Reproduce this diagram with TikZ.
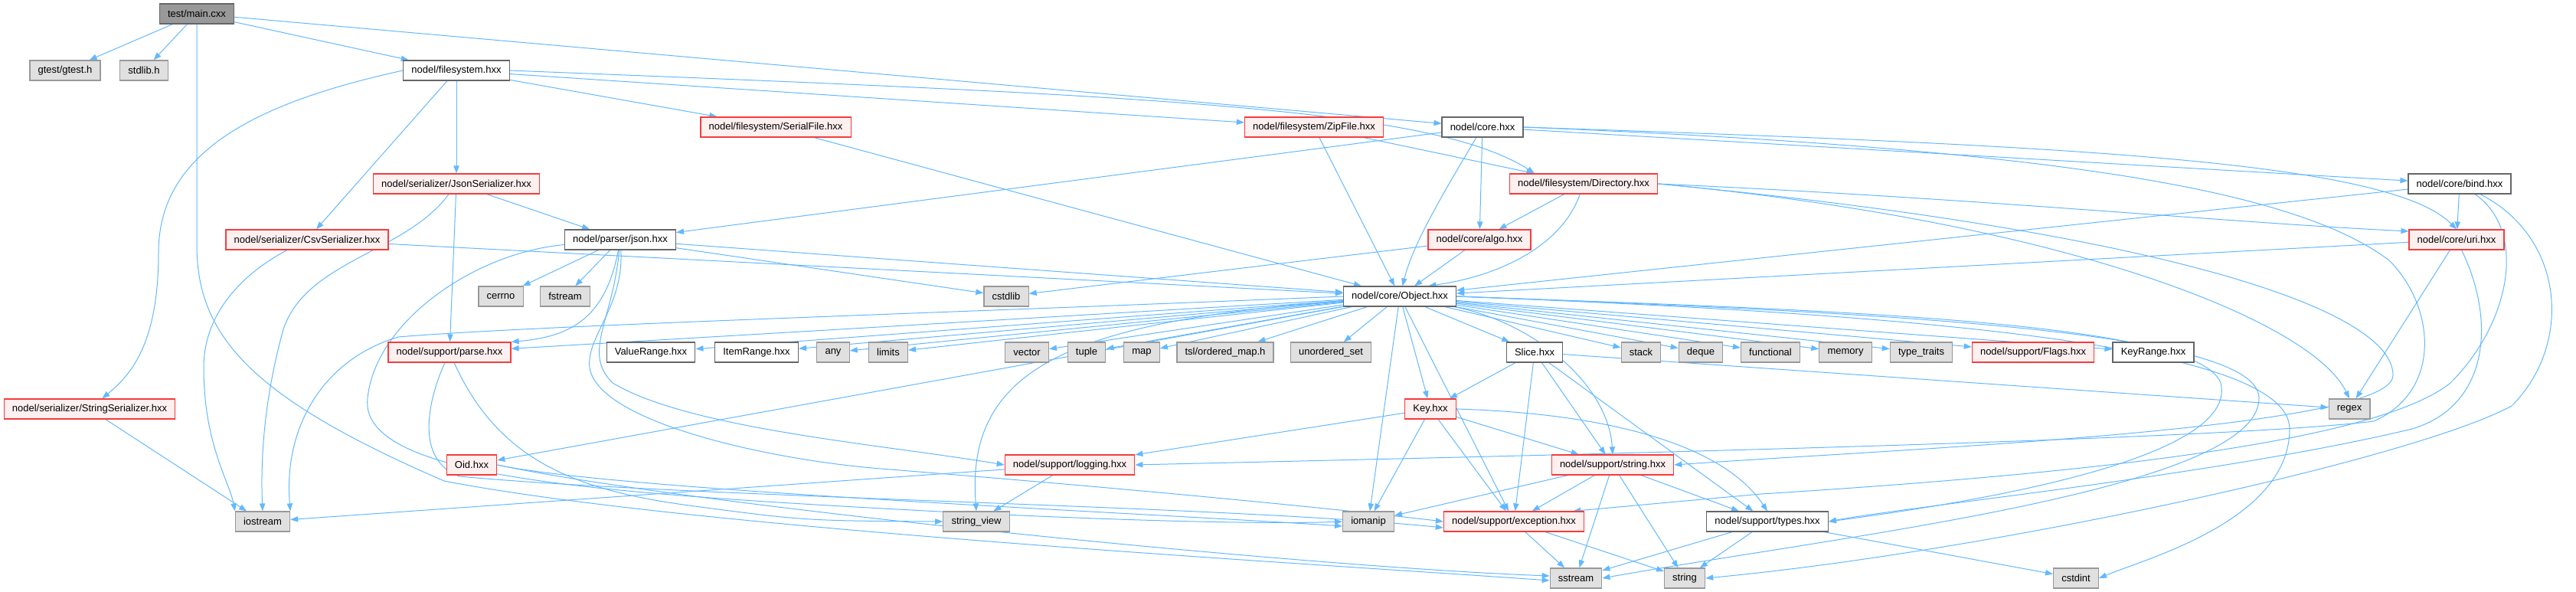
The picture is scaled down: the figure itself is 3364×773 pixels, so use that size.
\documentclass[tikz,border=0pt]{standalone}
\usepackage{fontspec}
\setmainfont{Liberation Sans}
\usetikzlibrary{arrows.meta,backgrounds}
\definecolor{edgeblue}{RGB}{99,184,255}
\definecolor{mainfill}{RGB}{153,153,153}
\definecolor{mainline}{RGB}{102,102,102}
\definecolor{sysfill}{RGB}{224,224,224}
\definecolor{sysline}{RGB}{153,153,153}
\definecolor{cutfill}{RGB}{255,240,240}
\definecolor{cutline}{RGB}{245,60,60}

\tikzset{
  hdr/.style={draw, line width=0.9pt, minimum height=19.5pt, inner xsep=8pt, inner ysep=0pt,
    font=\fontsize{9.75}{11}\selectfont},
  mainbox/.style={hdr, draw=mainline, fill=mainfill},
  sysbox/.style={hdr, draw=sysline, fill=sysfill},
  filebox/.style={hdr, draw=mainline, fill=white},
  cutbox/.style={hdr, draw=cutline, fill=cutfill},
  dep/.style={draw=edgeblue, line width=0.75pt, -{Triangle[length=7.5pt,width=5.5pt]}},
}

\begin{document}
\begin{tikzpicture}[x=0.75pt, y=-0.75pt]
\useasboundingbox (0,0) rectangle (3364,773);

% 1. ROWS OF HEADERS
\node[mainbox] (main) at (257,18) {test/main.cxx};

\node[sysbox] (gtest) at (85,92) {gtest/gtest.h};
\node[sysbox] (stdlib) at (188,92) {stdlib.h};
\node[filebox] (fs) at (596,92) {nodel/filesystem.hxx};

\node[cutbox] (serial) at (1013,166) {nodel/filesystem/SerialFile.hxx};
\node[cutbox] (zip) at (1716,166) {nodel/filesystem/ZipFile.hxx};
\node[filebox] (core) at (1936,166) {nodel/core.hxx};

\node[cutbox] (jsonser) at (596,240) {nodel/serializer/JsonSerializer.hxx};
\node[cutbox] (dir) at (2068,240) {nodel/filesystem/Directory.hxx};
\node[filebox] (bind) at (3212,240) {nodel/core/bind.hxx};

\node[cutbox] (csv) at (401,313) {nodel/serializer/CsvSerializer.hxx};
\node[filebox] (json) at (810,313) {nodel/parser/json.hxx};
\node[cutbox] (algo) at (1932,313) {nodel/core/algo.hxx};
\node[cutbox] (uri) at (3208,313) {nodel/core/uri.hxx};

\node[sysbox] (cerrno) at (654,387) {cerrno};
\node[sysbox] (fstream) at (738,387) {fstream};
\node[sysbox] (cstdlib) at (1314,387) {cstdlib};
\node[filebox] (object) at (1828,387) {nodel/core/Object.hxx};

\node[cutbox] (parse) at (587,460) {nodel/support/parse.hxx};
\node[filebox] (vrange) at (850,460) {ValueRange.hxx};
\node[filebox] (irange) at (988,460) {ItemRange.hxx};
\node[sysbox] (any) at (1088,460) {any};
\node[sysbox] (limits) at (1160,460) {limits};
\node[sysbox] (vector) at (1341,460) {vector};
\node[sysbox] (tuple) at (1419,460) {tuple};
\node[sysbox] (map) at (1491,460) {map};
\node[sysbox] (tsl) at (1600,460) {tsl/ordered\_map.h};
\node[sysbox] (uset) at (1738,460) {unordered\_set};
\node[filebox] (slice) at (2004,460) {Slice.hxx};
\node[sysbox] (stack) at (2143,460) {stack};
\node[sysbox] (deque) at (2221,460) {deque};
\node[sysbox] (functional) at (2312,460) {functional};
\node[sysbox] (memory) at (2410,460) {memory};
\node[sysbox] (ttraits) at (2509,460) {type\_traits};
\node[cutbox] (flags) at (2655,460) {nodel/support/Flags.hxx};
\node[filebox] (krange) at (2812,460) {KeyRange.hxx};

\node[cutbox] (strser) at (117,534) {nodel/serializer/StringSerializer.hxx};
\node[cutbox] (key) at (1868,534) {Key.hxx};
\node[sysbox] (regex) at (3068,534) {regex};

\node[cutbox] (oid) at (616,607) {Oid.hxx};
\node[cutbox] (logging) at (1397,607) {nodel/support/logging.hxx};
\node[cutbox] (strhxx) at (2106,607) {nodel/support/string.hxx};

\node[sysbox] (iostream) at (343,681) {iostream};
\node[sysbox] (strview) at (1275,681) {string\_view};
\node[sysbox] (iomanip) at (1787,681) {iomanip};
\node[cutbox] (exception) at (1977,681) {nodel/support/exception.hxx};
\node[filebox] (types) at (2308,681) {nodel/support/types.hxx};

\node[sysbox] (sstream) at (2058,755) {sstream};
\node[sysbox] (string) at (2200,755) {string};
\node[sysbox] (cstdint) at (2711,755) {cstdint};

\begin{scope}[on background layer]
% 2. TOP OF THE GRAPH
\draw[dep] (main) -- (gtest);
\draw[dep] (main) -- (stdlib);
\draw[dep] (main) -- (fs);
\draw[dep] (main) -- (core);
\draw[dep] (main.south) -- (257,320) .. controls (257,440) and (330,520) .. (580,628)
  .. controls (900,690) and (1700,735) .. (sstream.185);

\draw[dep] (fs) -- (serial);
\draw[dep] (fs) -- (zip);
\draw[dep] (fs.east) .. controls (1500,125) and (1870,140) .. (dir.168);
\draw[dep] (fs) -- (jsonser);
\draw[dep] (fs) -- (csv);
\draw[dep] (fs.west) .. controls (330,135) and (207,200) .. (207,330)
  .. controls (207,450) and (170,490) .. (strser);

\draw[dep] (serial) -- (object);
\draw[dep] (zip) -- (object);
\draw[dep] (zip) -- (dir);

\draw[dep] (core) -- (json);
\draw[dep] (core) .. controls (1880,260) and (1845,320) .. (object);
\draw[dep] (core) -- (algo);
\draw[dep] (core) -- (bind);
\draw[dep] (core.east) .. controls (2700,190) and (3120,210) .. (uri.north);
\draw[dep] (core.east) .. controls (2700,195) and (3000,250) .. (3120,340)
  .. controls (3180,400) and (3190,510) .. (3100,550)
  .. controls (2900,575) and (2000,595) .. (logging.east);

\draw[dep] (dir) -- (algo);
\draw[dep] (dir) .. controls (2040,320) and (1960,360) .. (object.20);
\draw[dep] (dir.east) .. controls (2600,260) and (2900,290) .. (uri.170);
\draw[dep] (dir.east) .. controls (2700,290) and (3020,420) .. (regex.north);
\draw[dep] (dir.east) .. controls (2800,300) and (3125,400) .. (3125,490)
  .. controls (3125,560) and (2500,585) .. (strhxx.east);

% 3. SERIALIZERS AND PARSER
\draw[dep] (jsonser) -- (json);
\draw[dep] (jsonser) -- (parse);
\draw[dep] (jsonser) .. controls (530,330) and (400,340) .. (370,430)
  .. controls (345,520) and (340,600) .. (iostream.north);
\draw[dep] (csv) .. controls (330,350) and (266,400) .. (266,480)
  .. controls (266,580) and (300,630) .. (iostream.north west);
\draw[dep] (csv) -- (object);
\draw[dep] (strser) -- (iostream);

\draw[dep] (json) -- (cerrno);
\draw[dep] (json) -- (fstream);
\draw[dep] (json) -- (cstdlib);
\draw[dep] (json) -- (object);
\draw[dep] (json) .. controls (790,420) and (740,440) .. (parse.north east);
\draw[dep] (json) .. controls (800,420) and (760,460) .. (800,500)
  .. controls (900,560) and (1150,580) .. (logging.west);
\draw[dep] (json) .. controls (815,400) and (765,440) .. (770,480)
  .. controls (780,550) and (1000,600) .. (1150,612)
  .. controls (1500,640) and (1750,665) .. (exception.west);
\draw[dep] (json) .. controls (620,330) and (490,420) .. (480,520)
  .. controls (470,610) and (700,635) .. (1000,655)
  .. controls (1400,680) and (1650,685) .. (iomanip.west);

\draw[dep] (algo) -- (object);
\draw[dep] (algo) -- (cstdlib);

\draw[dep] (bind) -- (object);
\draw[dep] (bind) -- (uri);
\draw[dep] (bind) .. controls (3300,300) and (3280,420) .. (3200,500)
  .. controls (3100,580) and (2700,620) .. (2300,645) -- (exception.10);
\draw[dep] (bind) .. controls (3350,310) and (3360,450) .. (3280,530)
  .. controls (3150,600) and (2600,720) .. (string.east);

\draw[dep] (uri) -- (object);
\draw[dep] (uri) -- (regex);
\draw[dep] (uri) .. controls (3260,420) and (3250,530) .. (3150,560)
  .. controls (2900,620) and (2500,660) .. (types.east);

% 4. OBJECT AND ITS HEADERS
\foreach \t in {parse,vrange,irange,any,limits,vector,tuple,map,tsl,uset,slice,
  stack,deque,functional,memory,ttraits,flags,krange,key,oid,iomanip,exception}
  \draw[dep] (object) -- (\t);
\draw[dep] (object.west) .. controls (1200,410) and (700,425) .. (520,440)
  .. controls (420,470) and (370,560) .. (iostream.north east);
\draw[dep] (object) .. controls (1400,420) and (1260,480) .. (strview.north);
\draw[dep] (object) .. controls (2000,420) and (2100,500) .. (strhxx.north);
\draw[dep] (object.east) .. controls (2400,405) and (2870,420) .. (2900,500)
  .. controls (2920,580) and (2700,640) .. (types.east);
\draw[dep] (object.east) .. controls (2500,410) and (2990,450) .. (2990,560)
  .. controls (2990,680) and (2800,730) .. (cstdint.east);
\draw[dep] (object.east) .. controls (2450,408) and (2950,430) .. (2950,520)
  .. controls (2950,640) and (2400,700) .. (sstream.east);

% 5. LOWER SUPPORT HEADERS
\draw[dep] (parse) .. controls (560,520) and (540,600) .. (600,622)
  .. controls (900,650) and (1600,660) .. (exception.185);
\draw[dep] (parse) .. controls (650,600) and (750,640) .. (900,660)
  .. controls (1050,680) .. (strview.west);
\draw[dep] (oid.east) .. controls (800,640) and (1500,670) .. (iomanip.190);
\draw[dep] (oid.east) .. controls (900,660) and (1700,740) .. (sstream.175);

\draw[dep] (slice) -- (key);
\draw[dep] (slice) -- (strhxx);
\draw[dep] (slice) -- (exception);
\draw[dep] (slice) -- (types);
\draw[dep] (slice) -- (regex);

\draw[dep] (key) -- (logging);
\draw[dep] (key) -- (iomanip);
\draw[dep] (key) -- (exception);
\draw[dep] (key) -- (strhxx);
\draw[dep] (key.east) .. controls (2100,540) and (2250,580) .. (types.north);

\draw[dep] (logging) -- (iostream);
\draw[dep] (logging) -- (strview);

\foreach \t in {iomanip,exception,sstream,string,types}
  \draw[dep] (strhxx) -- (\t);
\draw[dep] (exception) -- (sstream);
\draw[dep] (exception) -- (string);
\foreach \t in {sstream,string,cstdint}
  \draw[dep] (types) -- (\t);
\end{scope}

\end{tikzpicture}
\end{document}
